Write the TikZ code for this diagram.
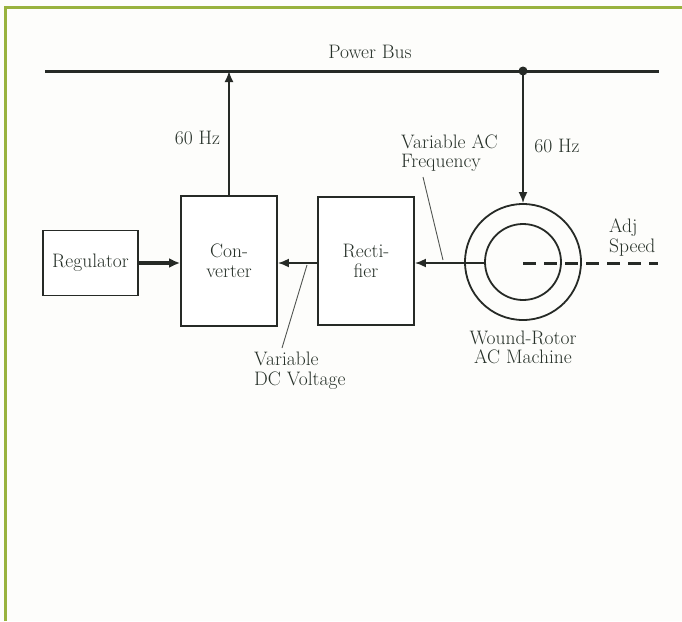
\documentclass[tikz,border=0pt]{standalone}
\usepackage{fontspec}
\setmainfont{Latin Modern Roman}
\usetikzlibrary{arrows.meta}
\definecolor{ink}{HTML}{262A26}
\definecolor{txt}{HTML}{263028}
\definecolor{frame}{HTML}{98B23E}
\definecolor{paper}{HTML}{FDFDFB}
\begin{document}
\begin{tikzpicture}[x=1pt,y=-1pt,
  lbl/.style={text=txt,font=\fontsize{19.5}{19.5}\selectfont,inner sep=0pt,align=center},
  blk/.style={draw=ink,line width=1.8pt,fill=white,inner sep=0pt,text=txt,font=\fontsize{19.5}{19.5}\selectfont,align=center},
  wire/.style={draw=ink,line width=1.9pt},
  arr/.style={wire,-{Latex[length=11pt,width=9pt]}},
  ptr/.style={draw=ink!80,line width=0.9pt}]
\useasboundingbox (0,0) rectangle (682,621);
\fill[paper] (0,0) rectangle (682,621);
% frame
\draw[frame,line width=2.6pt] (5.5,621) -- (5.5,7.5) -- (682,7.5);
% bus
\coordinate (busL) at (45,71);
\coordinate (busR) at (659,71);
\coordinate (J) at (523,71);
\draw[draw=ink,line width=3pt] (busL) -- (busR);
\fill[ink] (J) circle (4.5);
\node[lbl] (pb) at (370,52) {Power Bus};
% blocks
\node[blk,minimum width=95,minimum height=65] (reg) at (90.5,263) {Regulator};
\node[blk,minimum width=96,minimum height=130] (conv) at (229,261) {Con-\\verter};
\node[blk,minimum width=96,minimum height=128] (rect) at (366,261) {Recti-\\fier};
\node[draw=ink,line width=1.8pt,circle,minimum size=116,inner sep=0pt] (outer) at (523,262) {};
\node[draw=ink,line width=1.8pt,circle,minimum size=76,inner sep=0pt] (inner) at (523,262) {};
% connectors
\draw[arr] (conv.north) -- (conv.north |- busL);
\draw[arr] (J) -- (outer.north);
\draw[wire,line width=3.4pt,-{Latex[length=11pt,width=10pt]}] (reg.east) -- (conv.west |- reg.east);
\draw[arr] (rect.west |- 0,263) -- (conv.east |- 0,263);
\draw[arr] (inner.west |- 0,263) -- (rect.east |- 0,263);
\coordinate (adjEnd) at (658,263);
\draw[draw=ink,line width=3pt,dash pattern=on 13pt off 8pt] (523,263) -- (adjEnd);
% labels
\node[lbl] (hzL) at (197.5,138) {60 Hz};
\node[lbl] (hzR) at (557,146) {60 Hz};
\node[lbl,anchor=west,align=left] (vac) at (401,153) {Variable AC\\Frequency};
\coordinate (vacTip) at (443,260);
\draw[ptr] (423,177) -- (vacTip);
\node[lbl,anchor=west,align=left] (vdc) at (254,370.5) {Variable\\DC Voltage};
\coordinate (vdcTip) at (307,265);
\draw[ptr] (282,348) -- (vdcTip);
\node[lbl,align=left,anchor=west] (adj) at (609,237.5) {Adj\\Speed};
\node[lbl] (wr) at (523,347.5) {Wound-Rotor\\AC Machine};
\end{tikzpicture}
\end{document}
